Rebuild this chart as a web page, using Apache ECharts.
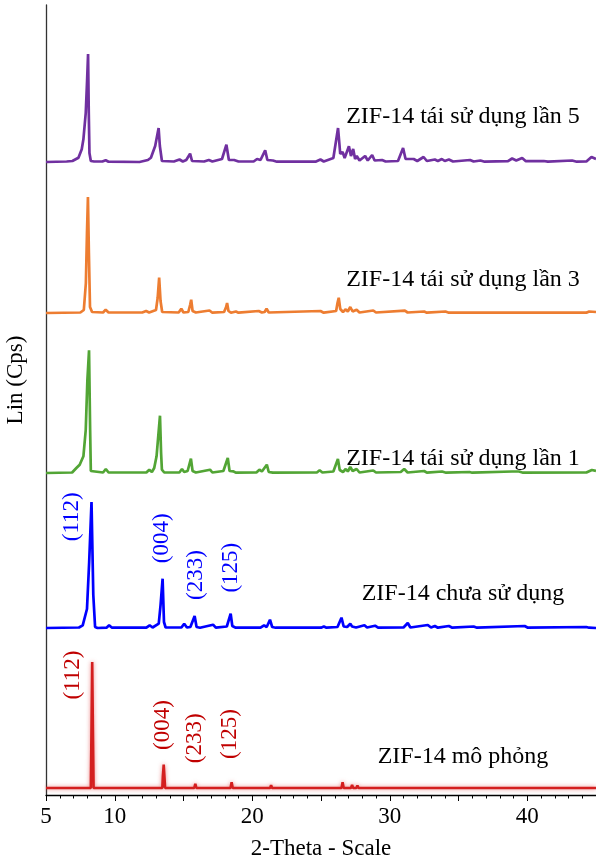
<!DOCTYPE html>
<html><head><meta charset="utf-8">
<script src="https://cdn.jsdelivr.net/npm/echarts@6/dist/echarts.min.js"></script>
<style>html,body{margin:0;padding:0;background:#fff}#c{width:596px;height:863px}</style>
</head><body><div id="c"></div>
<script>
// 2-Theta (deg) / relative intensity points
const purple5 = [[5.0,0],[6.5,0.5],[6.92,1],[7.36,4.3],[7.6,12.7],[7.72,22.7],[7.89,49],[7.99,82],[8.06,108],[8.11,50],[8.16,9],[8.26,1],[8.5,0.5],[9.1,0.5],[9.34,1.8],[9.55,0.3],[11.8,0],[12.41,2],[12.63,4.3],[12.94,16],[13.19,34],[13.28,16],[13.43,1],[14.3,0.5],[14.71,2.5],[14.95,0.5],[15.2,2],[15.48,8.3],[15.62,1],[16.5,0.5],[16.84,2],[17.1,0.5],[17.8,3],[18.12,17.3],[18.3,2],[18.68,2],[19.0,0.5],[20.1,0.5],[20.35,3],[20.6,2],[20.94,11.7],[21.1,2],[21.5,1.5],[21.8,0.3],[24.6,0.3],[24.96,2.5],[25.2,0.5],[25.9,4],[26.24,34],[26.4,8],[26.57,10],[26.72,4],[27.03,15.7],[27.18,6],[27.34,13],[27.48,3],[27.6,6],[27.8,1.5],[28.21,6],[28.4,1.5],[28.72,7],[28.9,1.5],[29.44,2],[29.7,0.5],[30.6,1],[30.97,14],[31.15,3],[31.74,3],[32.0,1],[32.46,5],[32.7,1],[33.28,2.5],[33.5,1],[33.79,3],[34.0,1],[34.3,2.5],[34.6,0.5],[35.84,2],[36.1,0.5],[36.6,1.5],[36.9,0.3],[38.6,0.8],[38.9,3.5],[39.2,1.5],[39.63,4],[39.9,0.8],[41.2,1],[41.5,0.3],[43.26,1.5],[43.6,0.3],[44.3,0.5],[44.67,5],[45.0,3]];
const orange3 = [[5,0],[7.5,0.5],[7.75,3],[7.9,30],[7.98,80],[8.05,116],[8.12,60],[8.2,6],[8.35,1],[9.15,0.5],[9.34,3.3],[9.55,0.5],[12.0,0.5],[12.28,2],[12.5,0.5],[13.0,3],[13.12,15],[13.23,35.3],[13.33,12],[13.45,1],[14.65,0.5],[14.84,4.3],[15.0,0.5],[15.35,1],[15.48,8],[15.56,13.3],[15.66,2],[15.9,0.5],[16.89,2.5],[17.1,0.3],[17.95,1],[18.1,6],[18.17,10],[18.27,2],[18.45,0.3],[18.81,1.5],[19.0,0.3],[20.47,2],[20.7,0.5],[20.9,1],[21.04,4.3],[21.2,0.5],[24.96,2],[25.2,0.3],[26.1,2],[26.2,10],[26.29,15.3],[26.4,4],[26.6,1],[26.8,3.7],[26.95,1.5],[27.13,6],[27.3,1.5],[27.59,3.3],[27.8,0.5],[28.8,2.5],[29.0,0.5],[31.1,2.3],[31.3,0.5],[32.5,1.5],[32.7,0.3],[34.05,1.5],[34.3,0.3],[44.3,0.3],[44.5,1.5],[45,1]];
const green1 = [[5,0],[6.9,0.5],[7.21,5],[7.45,8.3],[7.72,16.7],[7.89,43],[8.01,93],[8.13,122.7],[8.21,43],[8.26,2],[8.4,0.5],[9.15,0.5],[9.35,4],[9.55,0.5],[12.3,0.5],[12.51,3.3],[12.7,1],[12.87,5],[13.04,16.7],[13.29,57.3],[13.37,20],[13.43,3.3],[13.6,0.5],[14.7,0.5],[14.89,4],[15.05,1],[15.3,2],[15.54,14.3],[15.66,2],[15.9,0.5],[16.93,3.3],[17.1,0.5],[17.9,2],[18.22,15],[18.35,2],[18.63,1.7],[18.8,0.3],[20.3,0.5],[20.52,3.3],[20.7,1.5],[21.06,8.3],[21.2,1],[21.5,0.3],[24.7,0.5],[24.9,2.7],[25.1,0.5],[25.9,1.5],[26.23,14],[26.36,3],[26.6,1],[26.8,4],[26.95,1.5],[27.13,6],[27.3,2],[27.59,4],[27.8,0.5],[28.3,1.5],[28.8,2.5],[29.0,0.5],[30.8,1],[31.05,4],[31.3,0.5],[32.5,2],[32.7,0.3],[33.8,1.5],[34.1,0.3],[35.8,1],[36,0.3],[38.9,1.5],[39.4,1.5],[39.7,0.3],[44.3,0.5],[44.7,3],[45,2]];
const unused = [[5,0],[7.4,0.5],[7.67,2.7],[7.98,19],[8.14,66],[8.31,126],[8.44,33],[8.57,1],[8.75,0],[9.4,0.3],[9.59,2.7],[9.8,0.3],[12.3,0.3],[12.54,2.7],[12.75,0.5],[13.2,4.3],[13.33,22.7],[13.48,49.3],[13.58,6],[13.7,0.5],[14.85,0.5],[15.05,4.3],[15.25,0.5],[15.5,1],[15.81,12],[15.95,1],[16.2,0.3],[17.15,3.3],[17.35,0.3],[18.15,1.5],[18.43,14.3],[18.55,2],[18.8,0.3],[20.6,0.3],[20.86,2.7],[21.05,1],[21.29,8.3],[21.45,1],[21.7,0.3],[25.0,0.3],[25.21,1.5],[25.4,0.3],[26.2,1],[26.49,10.3],[26.65,1.5],[26.9,1],[27.13,4.3],[27.26,1.5],[27.39,3.3],[27.55,0.5],[28.16,2.7],[28.35,0.5],[28.93,2.3],[29.15,0.3],[31.0,0.5],[31.31,5],[31.5,0.5],[32.77,3],[33.0,0.5],[33.28,2],[33.5,0.3],[34.3,2],[34.55,0.3],[36.1,1.5],[36.35,0.3],[39.81,2],[40.05,0.3],[44.29,1],[44.5,0.3],[45,0]];
const simulated = [[5,0],[8.26,0],[8.31,60],[8.36,126],[8.41,60],[8.46,0],[9.6,0],[9.67,2],[9.74,0],[12.6,0],[12.67,1],[12.74,0],[13.46,0],[13.5,12],[13.56,23.3],[13.62,10],[13.66,0],[15.08,0],[15.15,1.5],[15.22,0],[15.78,0],[15.86,4.3],[15.94,0],[17.2,0],[17.27,1.5],[17.34,0],[18.42,0],[18.5,5.7],[18.58,0],[21.3,0],[21.37,2.7],[21.44,0],[25.27,0],[25.34,1],[25.41,0],[26.49,0],[26.57,5.7],[26.65,0],[27.18,0],[27.26,3],[27.34,0],[27.57,0],[27.65,2.5],[27.73,0],[28.86,0],[28.93,1.5],[29.0,0],[31.29,0],[31.36,2],[31.43,0],[32.7,0],[32.77,1.5],[32.84,0],[34.23,0],[34.3,1.5],[34.37,0],[39.87,0],[39.94,1.5],[40.01,0],[45,0]];

const seriesNames = ['ZIF-14 tái sử dụng lần 5','ZIF-14 tái sử dụng lần 3','ZIF-14 tái sử dụng lần 1','ZIF-14 chưa sử dụng','ZIF-14 mô phỏng'];
const offsets = [633, 482, 322, 167, 7];
const xTickLabels = [5, 10, 20, 30, 40];
const millerLabels = ['(112)','(004)','(233)','(125)'];

const colors = ['#7030a0','#ed7d31','#52a535','#0000ff','#d41f1f'];
const dataSets = [purple5, orange3, green1, unused, simulated];

const chart = echarts.init(document.getElementById('c'), null, {renderer:'canvas'});
const FONT = 'Liberation Serif';

const series = dataSets.map((d,i)=>({
  type:'line', name: seriesNames[i], showSymbol:false, symbol:'none', smooth:false, animation:false,
  data: d.map(p=>[p[0], p[1]+offsets[i]]),
  lineStyle: i===4 ? {color:colors[i], width:2.6, shadowBlur:4, shadowColor:'rgba(220,40,40,0.55)'} : {color:colors[i], width:2.7},
  z: 5-i
}));

const nameYs = [116.7, 280, 458.3, 593.3, 756.7];
const graphics = [];
seriesNames.forEach((n,i)=>{
  graphics.push({type:'text', x:463, y:nameYs[i], style:{text:n, font:'24px "'+FONT+'"', fill:'#000', align:'center', verticalAlign:'middle'}});
});
const blueLab = [[72.2,516.7],[162.2,538.3],[195.8,575],[230.5,567.7]];
const redLab = [[73,675],[163,725],[195,738.3],[230,734]];
millerLabels.forEach((t,i)=>{
  graphics.push({type:'text', x:blueLab[i][0], y:blueLab[i][1], rotation:Math.PI/2, style:{text:t, font:'23px "'+FONT+'"', fill:'#0000ff', align:'center', verticalAlign:'middle'}});
  graphics.push({type:'text', x:redLab[i][0], y:redLab[i][1], rotation:Math.PI/2, style:{text:t, font:'23px "'+FONT+'"', fill:'#c00000', align:'center', verticalAlign:'middle'}});
});
graphics.push({type:'text', x:16, y:380, rotation:Math.PI/2, style:{text:'Lin (Cps)', font:'23px "'+FONT+'"', fill:'#000', align:'center', verticalAlign:'middle'}});

chart.setOption({
  animation:false,
  backgroundColor:'#fff',
  grid:{left:46, right:0, top:5, bottom:68, containLabel:false, outerBoundsMode:'none'},
  xAxis:{type:'value', min:5, max:45, interval:5,
    name:'2-Theta - Scale', nameLocation:'middle', nameGap:42,
    nameTextStyle:{fontFamily:FONT, fontSize:23, color:'#000'},
    axisLine:{onZero:false, lineStyle:{color:'#000', width:1.3}},
    axisTick:{show:true, length:6, lineStyle:{color:'#000', width:1}},
    minorTick:{show:true, splitNumber:5, length:3.5, lineStyle:{color:'#000', width:1}},
    splitLine:{show:false},
    axisLabel:{margin:10, fontFamily:FONT, fontSize:23, color:'#000', showMaxLabel:false,
      formatter:v=> xTickLabels.indexOf(v)>=0 ? String(v) : ''}
  },
  yAxis:{type:'value', min:0, max:790,
    axisLine:{show:true, lineStyle:{color:'#333', width:1.3}},
    axisTick:{show:false}, axisLabel:{show:false}, splitLine:{show:false}
  },
  series: series,
  graphic: graphics
});
</script></body></html>
